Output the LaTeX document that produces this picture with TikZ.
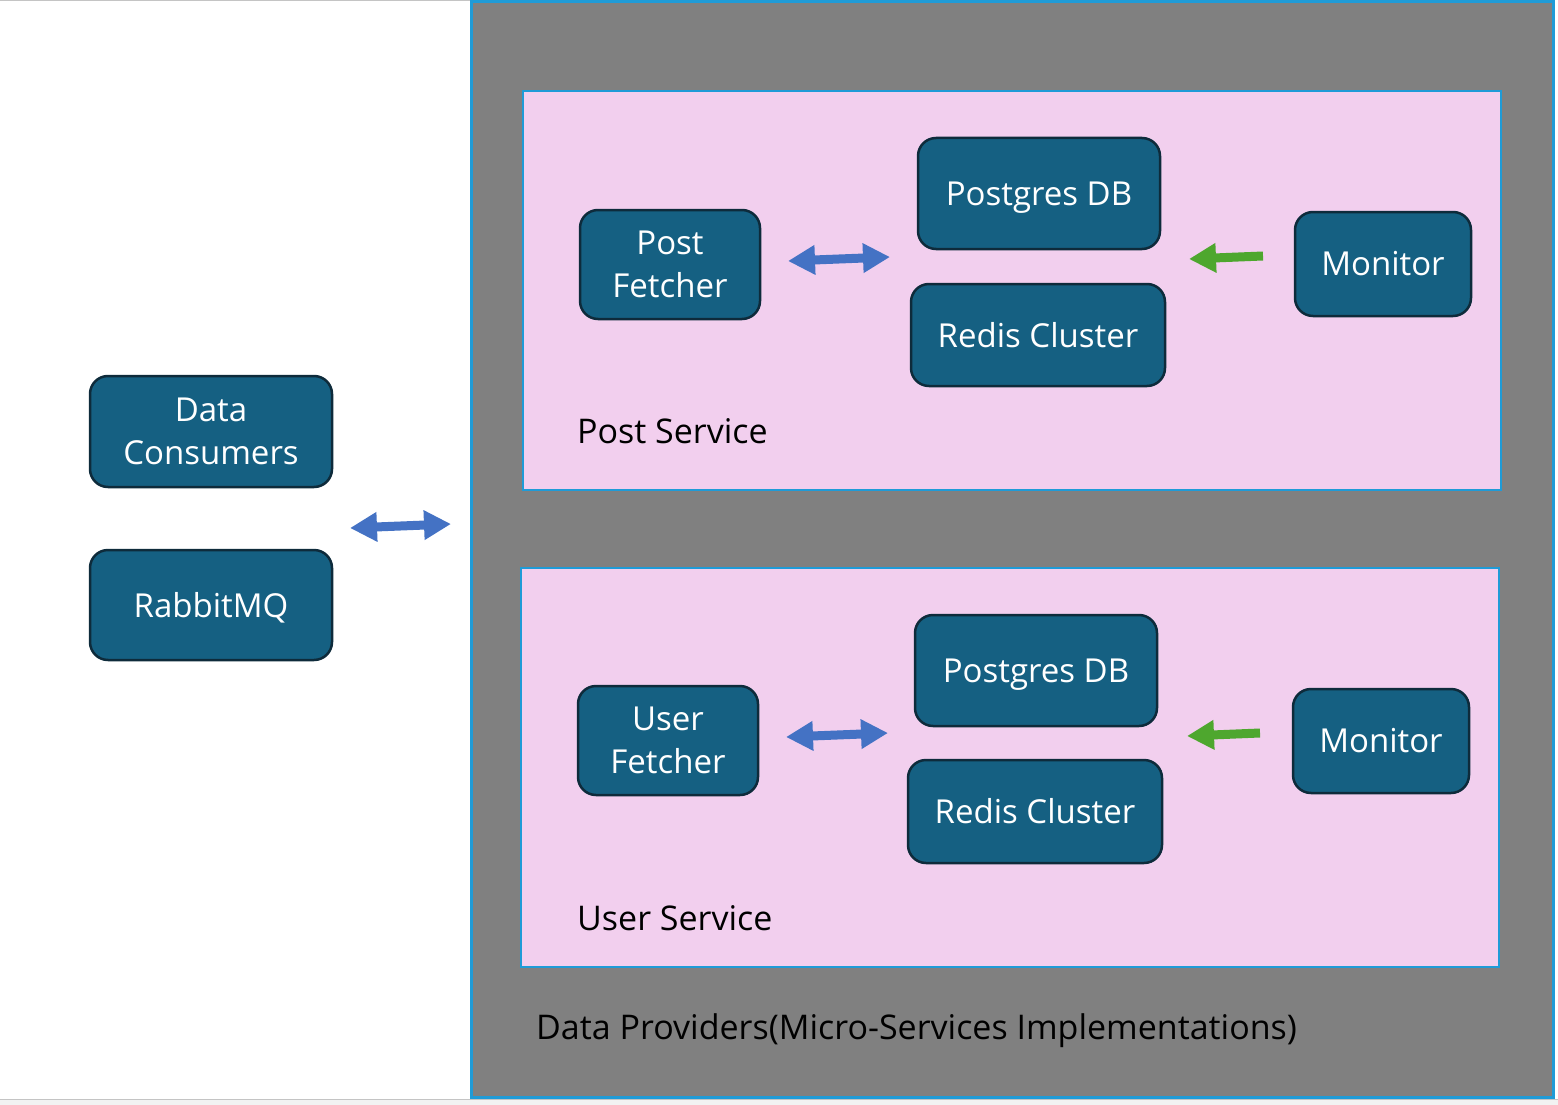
\documentclass[tikz,border=0pt]{standalone}
\usepackage{fontspec}
\setmainfont{Open Sans}
\usetikzlibrary{arrows.meta}
\definecolor{nodefill}{HTML}{156082}
\definecolor{nodeline}{HTML}{0E2B3B}
\definecolor{pinkfill}{HTML}{F2CFEE}
\definecolor{boxblue}{HTML}{1F9BD7}
\definecolor{arrowblue}{HTML}{4472C4}
\definecolor{arrowgreen}{HTML}{4EA72E}
\definecolor{panelgray}{HTML}{808080}
\definecolor{edgegray}{HTML}{C4C4C4}
\definecolor{stripgray}{HTML}{F2F2F2}
\begin{document}
\begin{tikzpicture}[x=1pt,y=-1pt,
  svc/.style={draw=nodeline,line width=2.5pt,fill=nodefill,rounded corners=18pt,
    text=white,font=\fontsize{33}{43}\selectfont,align=center,inner sep=0pt},
  lbl/.style={anchor=west,inner sep=0pt,text=black,font=\fontsize{34}{40}\selectfont},
  biglbl/.style={anchor=west,inner sep=0pt,text=black,font=\fontsize{34}{40}\selectfont},
  barrow/.style={draw=arrowblue,line width=9pt,
    {Triangle[length=27pt,width=28pt]}-{Triangle[length=27pt,width=28pt]}},
  garrow/.style={draw=arrowgreen,line width=9pt,-{Triangle[length=27pt,width=28pt]}}
]
\useasboundingbox (0,0) rectangle (1558,1105);
\fill[white] (0,0) rectangle (1558,1105);
% frame edges
\fill[stripgray] (0,1099) rectangle (1558,1105);
\draw[edgegray,line width=1.2pt] (0,1099.5) -- (1558,1099.5);
\draw[edgegray,line width=1.2pt] (0,0.6) -- (470,0.6);
% providers panel
\draw[boxblue,line width=3pt,fill=panelgray] (471.5,1.5) rectangle (1553,1097.5);
% service panels
\draw[boxblue,line width=1.6pt,fill=pinkfill] (523,91) rectangle (1501,490);
\draw[boxblue,line width=1.6pt,fill=pinkfill] (521,568) rectangle (1499,967);
% left nodes
\node[svc,minimum width=242pt,minimum height=111pt] (dc) at (211,431.5) {Data\\Consumers};
\node[svc,minimum width=242pt,minimum height=110pt,text depth=0pt] (mq) at (211,605) {RabbitMQ};
% post service
\node[svc,minimum width=180pt,minimum height=109pt] (pf) at (670,264.5) {Post\\Fetcher};
\node[svc,minimum width=242pt,minimum height=111pt,text depth=0pt] (pdb1) at (1039,193.5) {Postgres DB};
\node[svc,minimum width=254pt,minimum height=102pt] (rc1) at (1038,335) {Redis Cluster};
\node[svc,minimum width=176pt,minimum height=104pt] (mon1) at (1383,264) {Monitor};
\node[lbl] (ps) at (577,431) {Post Service};
% user service
\node[svc,minimum width=180pt,minimum height=109pt] (uf) at (668,740.5) {User\\Fetcher};
\node[svc,minimum width=242pt,minimum height=111pt,text depth=0pt] (pdb2) at (1036,670.5) {Postgres DB};
\node[svc,minimum width=254pt,minimum height=103pt] (rc2) at (1035,811.5) {Redis Cluster};
\node[svc,minimum width=176pt,minimum height=104pt] (mon2) at (1381,741) {Monitor};
\node[lbl] (us) at (577,918) {User Service};
\node[biglbl] (dp) at (536,1031) {Data Providers(Micro-Services Implementations)};
% arrows
\coordinate (a0s) at (350,528); \coordinate (a0e) at (451,524);
\draw[barrow] (a0s) -- (a0e);
\coordinate (a1s) at (788,261); \coordinate (a1e) at (890,257);
\draw[barrow] (a1s) -- (a1e);
\coordinate (a2s) at (786,737); \coordinate (a2e) at (888,733);
\draw[barrow] (a2s) -- (a2e);
\coordinate (g1s) at (1263,256); \coordinate (g1e) at (1189,259);
\draw[garrow] (g1s) -- (g1e);
\coordinate (g2s) at (1260,733); \coordinate (g2e) at (1187,736);
\draw[garrow] (g2s) -- (g2e);
\end{tikzpicture}
\end{document}
